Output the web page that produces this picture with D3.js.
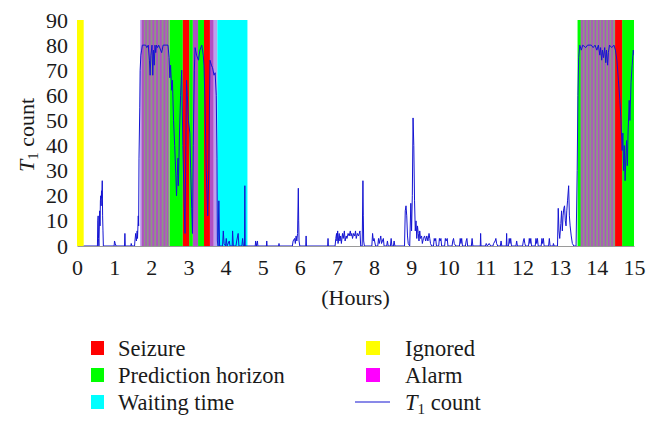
<!DOCTYPE html>
<html><head><meta charset="utf-8">
<script src="https://cdn.jsdelivr.net/npm/d3@7/dist/d3.min.js"></script>
</head>
<body style="margin:0">
<script>
// ---- data ----
const xTicks = [0,1,2,3,4,5,6,7,8,9,10,11,12,13,14,15];
const yTicks = [0,10,20,30,40,50,60,70,80,90];
const ignored = [[0,0.18]];
const horizon = [[2.49,2.85],[3.02,3.12],[3.26,3.42],[13.48,14.49],[14.68,15]];
const seizure = [[2.85,3.02],[3.42,3.58],[14.49,14.68]];
const waiting = [[3.78,4.59]];
const alarmBlocks = [[1.74,2.49],[13.56,14.49]];
const alarmFade = [[1.70,1.74],[3.68,3.78]];
const alarms = [[1.74,1.80],[1.84,1.88],[1.93,1.98],[2.03,2.08],[2.13,2.18],[2.23,2.28],[2.33,2.38],[2.42,2.45],
  [3.12,3.26],[3.58,3.68],
  [13.58,13.62],[13.67,13.71],[13.76,13.80],[13.85,13.89],[13.94,13.98],[14.03,14.07],
  [14.12,14.16],[14.21,14.25],[14.30,14.34],[14.39,14.43]];
const t1Count = [
 [0.18,0],[0.55,0],[0.56,10],[0.57,12],[0.58,3],[0.59,0],[0.61,14],[0.62,8],[0.63,18],[0.64,20],[0.65,16],
 [0.66,22],[0.67,19],[0.68,26],[0.69,12],[0.70,6],[0.71,0],
 [1.00,0],[1.01,2],[1.03,1],[1.05,0],[1.28,0],[1.29,5],[1.30,0],
 [1.45,0],[1.46,1],[1.48,0],[1.55,0],[1.56,2],[1.58,5],[1.60,2],[1.62,6],[1.63,3],[1.65,12],[1.66,8],
 [1.67,35],[1.69,55],[1.70,70],[1.72,76],[1.74,78],[1.76,80],[1.85,80],[1.88,79],[1.92,80],[1.95,74],
 [1.97,68],[1.99,76],[2.02,80],[2.04,68],[2.06,78],[2.08,72],[2.10,80],[2.12,77],[2.14,80],[2.17,79],
 [2.20,80],[2.28,77],[2.32,80],[2.45,80],[2.48,75],[2.50,67],[2.52,72],[2.55,62],[2.57,66],[2.60,50],
 [2.63,40],[2.66,29],[2.68,20],[2.70,28],[2.72,35],[2.73,24],[2.76,45],[2.79,60],[2.82,70],[2.85,40],
 [2.89,15],[2.91,5],[2.93,40],[2.95,66],[2.97,60],[3.00,50],[3.04,45],[3.06,31],[3.09,15],[3.11,5],
 [3.13,40],[3.16,70],[3.18,79],[3.22,76],[3.27,74],[3.31,78],[3.36,80],[3.40,76],[3.42,72],[3.45,55],
 [3.48,30],[3.52,12],[3.55,30],[3.58,74],[3.62,72],[3.65,71],[3.69,68],[3.72,69],[3.75,60],[3.77,35],
 [3.78,2],[3.80,0],[3.82,18],[3.84,0],[3.92,0],[3.94,6],[3.96,1],[4.00,0],[4.02,3],[4.04,0],[4.10,2],
 [4.12,0],[4.18,0],[4.19,6],[4.21,0],[4.28,0],[4.30,2],[4.34,5],[4.36,0],[4.44,0],[4.46,3],[4.48,0],
 [4.51,0],[4.52,24],[4.53,0],
 [4.80,0],[4.81,2],[4.83,0],[4.86,2],[4.87,0],[5.10,0],[5.11,2],[5.12,0],[5.43,0],[5.44,1],[5.45,0],
 [5.80,0],[5.82,2],[5.86,3],[5.88,1],[5.90,4],[5.92,2],[5.94,5],[5.96,23],[5.97,10],[5.98,2],[6.00,0],
 [6.16,0],[6.17,4],[6.18,0],[6.75,0],[6.76,3],[6.77,0],
 [6.95,0],[6.97,3],[6.99,5],[7.00,2],[7.02,6],[7.03,1],[7.06,5],[7.08,2],[7.10,4],[7.12,1],[7.15,5],
 [7.17,3],[7.20,6],[7.22,2],[7.25,4],[7.27,3],[7.30,5],[7.33,4],[7.36,6],[7.38,4],[7.40,5],[7.42,3],
 [7.45,5],[7.48,4],[7.50,6],[7.52,3],[7.55,5],[7.58,4],[7.62,6],[7.64,0],[7.68,0],[7.70,26],[7.71,12],
 [7.72,2],[7.74,0],
 [7.94,0],[7.96,5],[7.98,2],[8.00,3],[8.04,0],[8.10,0],[8.12,3],[8.14,1],[8.18,4],[8.20,1],[8.25,3],
 [8.27,0],[8.34,0],[8.36,2],[8.38,0],[8.44,0],[8.46,3],[8.48,0],[8.52,0],[8.54,2],[8.56,0],
 [8.82,0],[8.84,14],[8.86,16],[8.88,12],[8.90,4],[8.92,1],[8.96,0],[8.99,17],[9.01,6],[9.03,20],
 [9.05,51],[9.07,40],[9.09,18],[9.11,6],[9.13,10],[9.15,3],[9.17,8],[9.19,5],[9.21,2],[9.23,6],[9.25,3],
 [9.28,4],[9.30,1],[9.33,3],[9.36,4],[9.39,2],[9.42,4],[9.45,2],[9.48,5],[9.50,3],[9.52,1],[9.55,0],
 [9.60,0],[9.62,3],[9.64,2],[9.66,3],[9.68,0],[9.74,0],[9.76,3],[9.78,2],[9.80,3],[9.82,0],[9.90,0],
 [9.92,3],[9.94,2],[9.97,3],[9.99,0],[10.10,0],[10.12,2],[10.14,3],[10.16,1],[10.20,0],[10.30,0],
 [10.32,3],[10.34,1],[10.36,3],[10.38,0],[10.46,0],[10.48,2],[10.50,3],[10.52,0],[10.62,0],[10.64,3],
 [10.66,0],[10.86,0],[10.87,5],[10.88,0],[11.00,0],[11.02,1],[11.05,0],[11.10,1],[11.14,0],[11.20,0],
 [11.22,1],[11.26,2],[11.28,3],[11.30,1],[11.33,0],[11.40,0],[11.42,2],[11.44,0],[11.56,0],[11.57,5],
 [11.58,0],[11.62,0],[11.64,3],[11.66,1],[11.68,3],[11.70,0],[11.82,0],[11.84,2],[11.86,0],
 [12.00,0],[12.02,2],[12.04,3],[12.06,1],[12.08,0],[12.16,0],[12.18,3],[12.20,1],[12.22,3],[12.24,0],
 [12.34,0],[12.36,3],[12.38,1],[12.40,3],[12.42,0],[12.50,0],[12.52,3],[12.54,1],[12.56,3],[12.58,0],
 [12.70,0],[12.72,3],[12.74,0],[12.82,0],[12.83,1],[12.85,0],
 [12.94,0],[12.96,15],[12.98,6],[13.00,3],[13.03,9],[13.05,14],[13.07,6],[13.09,12],[13.11,15],
 [13.13,16],[13.15,10],[13.17,8],[13.19,14],[13.21,18],[13.24,24],[13.26,12],[13.28,8],[13.31,4],
 [13.34,1],[13.38,0],[13.44,0],[13.47,30],[13.49,60],[13.51,75],[13.54,80],[13.58,78],[13.62,80],
 [13.70,79],[13.75,80],[13.85,80],[13.90,79],[13.95,80],[14.00,78],[14.04,80],[14.08,76],[14.10,79],
 [14.13,74],[14.15,78],[14.18,75],[14.21,79],[14.24,73],[14.26,78],[14.29,72],[14.31,77],[14.34,80],
 [14.40,79],[14.46,80],[14.50,78],[14.54,74],[14.58,66],[14.62,58],[14.65,50],[14.68,38],[14.70,45],
 [14.72,30],[14.74,40],[14.76,26],[14.78,35],[14.80,42],[14.82,32],[14.84,45],[14.87,58],[14.89,50],
 [14.92,65],[14.95,72],[14.98,78],[15.00,76]];
const legendLeft = [["Seizure","#ff0000"],["Prediction horizon","#00ff00"],["Waiting time","#00ffff"]];
const legendRight = [["Ignored","#ffff00"],["Alarm","#ff00ff"]];

// ---- chart ----
const FONT = '"Liberation Serif"';
const svg = d3.select("body").append("svg").attr("width",656).attr("height",429);
const x = d3.scaleLinear().domain([0,15]).range([77,634]);
const y = d3.scaleLinear().domain([0,90]).range([246,20]);
const [y0,y1] = [y(0), y(90)];

svg.append("defs").append("clipPath").attr("id","plotclip")
  .append("rect").attr("x",x(0)).attr("y",y1).attr("width",x(15)-x(0)).attr("height",y0-y1);
const plot = svg.append("g").attr("clip-path","url(#plotclip)");

function bands(data, color){
  plot.append("g").selectAll("rect").data(data).join("rect")
    .attr("x",d=>x(d[0])).attr("width",d=>x(d[1])-x(d[0]))
    .attr("y",y1).attr("height",y0-y1).attr("fill",color);
}
bands(horizon,"#00ff00");
bands(alarmBlocks,"#8d9784");
bands(alarmFade,"#b9a0ee");
plot.append("g").selectAll("rect").data(alarms).join("rect")
  .attr("x",d=>x(d[0])).attr("width",d=>x(d[1])-x(d[0]))
  .attr("y",y1).attr("height",y0-y1).attr("fill","#b050c4");
bands(seizure,"#ff0000");
bands(waiting,"#00ffff");
bands(ignored,"#ffff00");

plot.append("path").datum(t1Count)
  .attr("d", d3.line().x(d=>x(d[0])).y(d=>y(d[1])))
  .attr("fill","none").attr("stroke","#1414d2").attr("stroke-width",1);

function txt(sel, size){ return sel.attr("font-size",size).style("font-family",FONT).attr("fill","#1a1a1a"); }

// axes
const xa = svg.append("g").attr("transform",`translate(0,${y0})`)
  .call(d3.axisBottom(x).tickValues(xTicks).tickSize(0).tickSizeOuter(0).tickPadding(13).tickFormat(d3.format("d")));
xa.attr("font-family",null).attr("font-size",null);
xa.select(".domain").attr("stroke","#9a9a9a").attr("stroke-width",1.2);
txt(xa.selectAll("text"),22);

const ya = svg.append("g").attr("transform",`translate(${x(0)},0)`)
  .call(d3.axisLeft(y).tickValues(yTicks).tickSize(0).tickPadding(9).tickFormat(d3.format("d")));
ya.attr("font-family",null).attr("font-size",null);
ya.select(".domain").remove();
txt(ya.selectAll("text"),22);

txt(svg.append("text"),22).attr("x",(x(0)+x(15))/2).attr("y",305).attr("text-anchor","middle").text("(Hours)");

const yl = txt(svg.append("text"),22).attr("transform","translate(34,135) rotate(-90)").attr("text-anchor","middle");
yl.append("tspan").style("font-style","italic").text("T");
yl.append("tspan").attr("dy",4).attr("font-size",15).text("1");
yl.append("tspan").attr("dy",-4).text(" count");

// legend
const rowY = [348,375,402];
legendLeft.forEach((d,i)=>{
  svg.append("rect").attr("x",91).attr("y",rowY[i]-7).attr("width",13).attr("height",14).attr("fill",d[1]);
  txt(svg.append("text"),22.5).attr("x",118).attr("y",rowY[i]).attr("dy","0.35em").text(d[0]);
});
legendRight.forEach((d,i)=>{
  svg.append("rect").attr("x",366).attr("y",rowY[i]-7).attr("width",14).attr("height",14).attr("fill",d[1]);
  txt(svg.append("text"),22.5).attr("x",405).attr("y",rowY[i]).attr("dy","0.35em").text(d[0]);
});
svg.append("line").attr("x1",355).attr("x2",390).attr("y1",rowY[2]).attr("y2",rowY[2])
  .attr("stroke","#1414d2").attr("stroke-width",1.2);
const lt = txt(svg.append("text"),22.5).attr("x",405).attr("y",rowY[2]).attr("dy","0.35em");
lt.append("tspan").style("font-style","italic").text("T");
lt.append("tspan").attr("dy",4).attr("font-size",15).text("1");
lt.append("tspan").attr("dy",-4).text(" count");
</script></body></html>
